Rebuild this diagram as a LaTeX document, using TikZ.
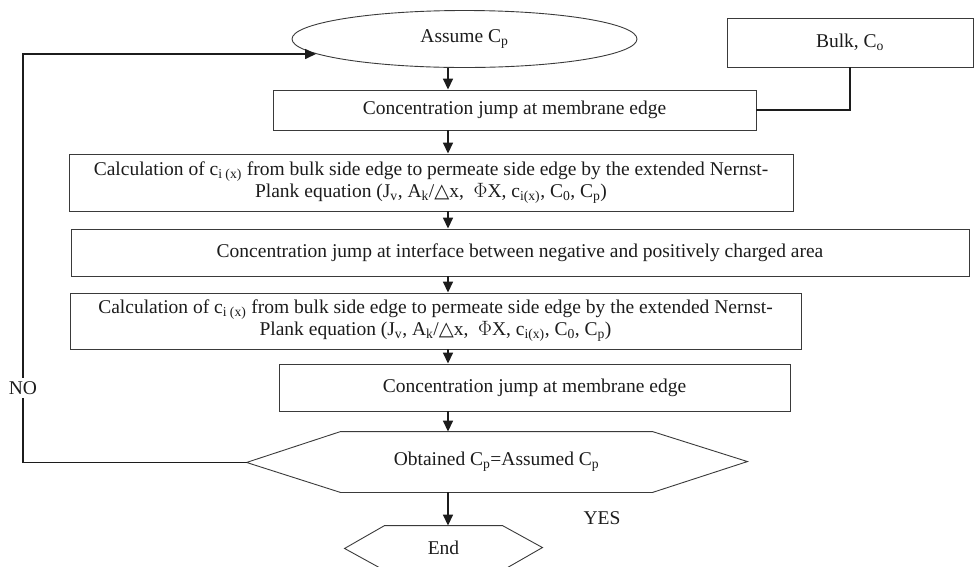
\documentclass[tikz,border=0pt]{standalone}
\usepackage{fontspec}
\setmainfont{Liberation Serif}
\newfontfamily\symb{DejaVu Sans}
\usetikzlibrary{shapes.geometric,arrows.meta}
\definecolor{boxgray}{HTML}{3A3A3A}
\definecolor{ink}{HTML}{1C1C1C}
\newcommand{\sub}[1]{\textsubscript{#1}}
\newcommand{\dtri}{{\symb\char"25B3}}
\tikzset{
  procbox/.style={draw=boxgray, line width=0.9pt, inner sep=0pt, text=ink, align=center},
  flow/.style={draw=ink, line width=1.6pt, -{Triangle[length=11pt,width=10pt]}},
  link/.style={draw=ink, line width=1.6pt}
}
\begin{document}
\begin{tikzpicture}[x=1pt,y=-1pt,font=\fontsize{19.5}{22}\selectfont]
\useasboundingbox (0,0) rectangle (974,566);
\coordinate (ax) at (448,0);
\node[procbox, ellipse, minimum width=345pt, minimum height=57pt] (v0) at (464.5,39) {Assume C\sub{p}};
\node[procbox, minimum width=246pt, minimum height=49pt] (v1) at (850,42.5) {Bulk, C\sub{o}};
\node[procbox, minimum width=483pt, minimum height=40pt] (v2) at (514.5,110) {Concentration jump at membrane edge};
\node[procbox, minimum width=724pt, minimum height=57pt] (v3) at (431,182.5) {Calculation of c\sub{i (x)} from bulk side edge to permeate side edge by the extended Nernst-\\Plank equation (J\sub{v}, A\sub{k}/\dtri x, \ \(\Phi\)X, c\sub{i(x)}, C\sub{0}, C\sub{p})};
\node[procbox, minimum width=898pt, minimum height=47pt] (v4) at (520,252.5) {Concentration jump at interface between negative and positively charged area};
\node[procbox, minimum width=731pt, minimum height=56pt] (v5) at (435.5,321) {Calculation of c\sub{i (x)} from bulk side edge to permeate side edge by the extended Nernst-\\Plank equation (J\sub{v}, A\sub{k}/\dtri x, \ \(\Phi\)X, c\sub{i(x)}, C\sub{0}, C\sub{p})};
\node[procbox, minimum width=511pt, minimum height=47pt] (v6) at (534.5,387.5) {Concentration jump at membrane edge};
\node[procbox, draw=none, minimum width=311pt, minimum height=60pt] (v7) at (496.5,462) {Obtained C\sub{p}=Assumed C\sub{p}};
\node[procbox, draw=none, minimum width=117pt, minimum height=44pt] (v8) at (443.5,548) {End};
\draw[boxgray, line width=0.9pt] (v7.north west) -- (v7.north east) -- ++(95,30) -- (v7.south east) -- (v7.south west) -- ++(-94,-30) coordinate (v7tip) -- cycle;
\draw[boxgray, line width=0.9pt] (v8.north west) -- (v8.north east) -- ++(40,22) -- (v8.south east) -- (v8.south west) -- ++(-40,-22) -- cycle;
\node[text=ink] (no) at (23,388) {NO};
\node[text=ink] (yes) at (602,518) {YES};
\coordinate (turn) at (24,54);
\coordinate (back) at (316,54);
\draw[flow] (v0.south -| ax) -- (v2.north -| ax);
\draw[link] (v1.south) |- (v2.east);
\draw[flow] (v2.south -| ax) -- (v3.north -| ax);
\draw[flow] (v3.south -| ax) -- (v4.north -| ax);
\draw[flow] (v4.south -| ax) -- (v5.north -| ax);
\draw[flow] (v5.south -| ax) -- (v6.north -| ax);
\draw[flow] (v6.south -| ax) -- (v7.north -| ax);
\draw[flow] (v7.south -| ax) -- (v8.north -| ax);
\draw[link] (v7tip) -| (no.south);
\draw[flow] (no.north) |- (turn) -- (back);
\end{tikzpicture}
\end{document}
